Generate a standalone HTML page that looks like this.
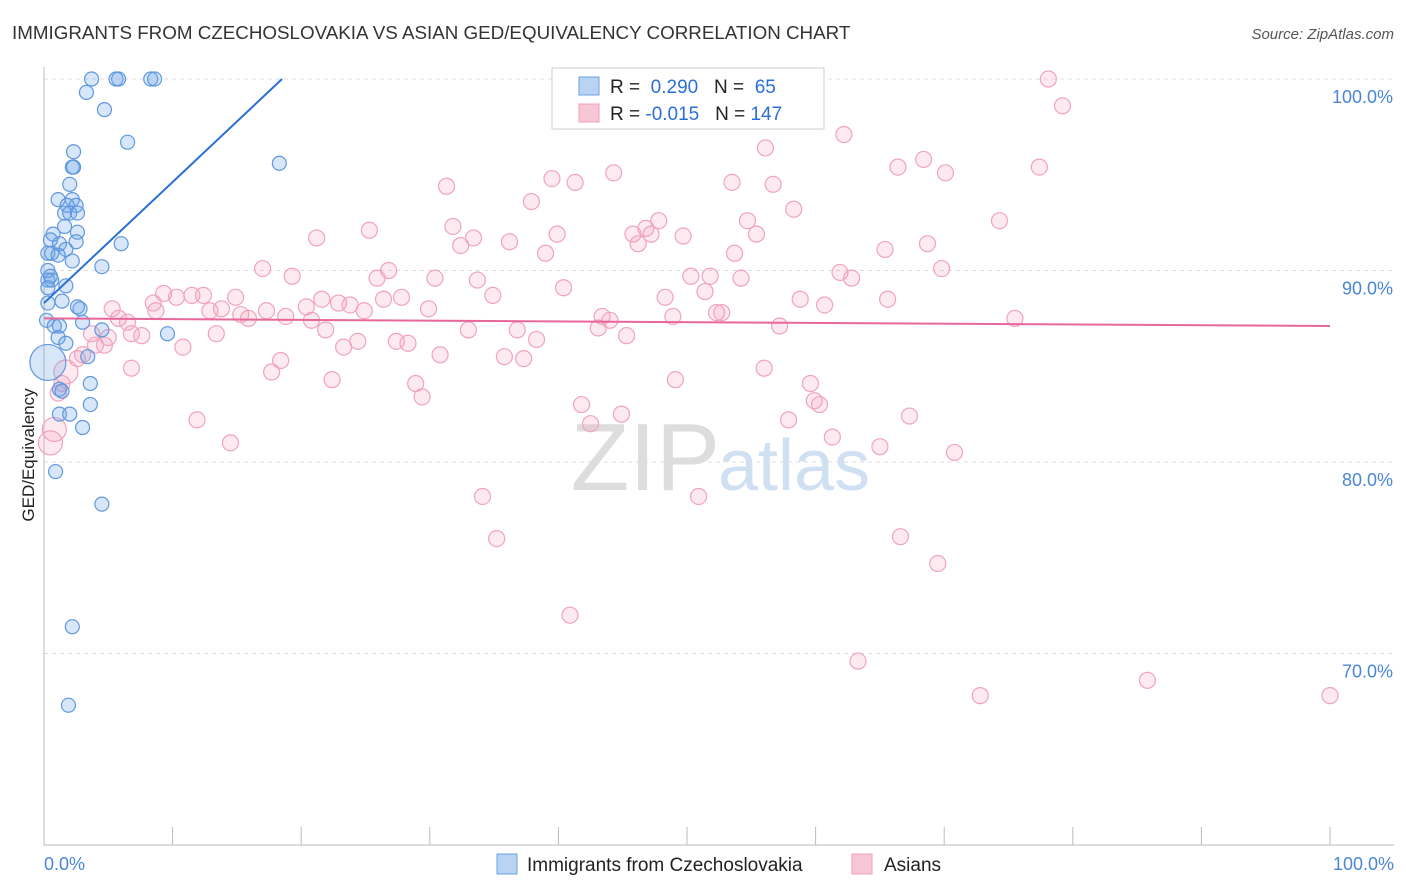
<!DOCTYPE html>
<html><head><meta charset="utf-8">
<style>
body{margin:0;background:#fff;font-family:"Liberation Sans",sans-serif;}
#wrap{position:relative;width:1406px;height:892px;overflow:hidden}
svg text{font-family:"Liberation Sans",sans-serif}
</style></head>
<body>
<div id="wrap">
<svg id="chart" width="1406" height="892">
<text x="12" y="39" font-size="18.8" fill="#333">IMMIGRANTS FROM CZECHOSLOVAKIA VS ASIAN GED/EQUIVALENCY CORRELATION CHART</text>
<text x="1394" y="39" font-size="15" fill="#555" font-style="italic" text-anchor="end">Source: ZipAtlas.com</text>
<text x="720" y="490" font-size="96" fill="#ddd" text-anchor="end" font-family="Liberation Serif">ZIP</text>
<text x="718" y="490" font-size="72" fill="#cfe0f3">atlas</text>
<g id="grid"></g><g id="axes"></g><g id="pts"></g><g id="trend"></g>
<text transform="translate(34,455) rotate(-90)" font-size="17" fill="#222" text-anchor="middle">GED/Equivalency</text>
<text x="44" y="870" font-size="18" fill="#4a86d8">0.0%</text>
<text x="1394" y="870" font-size="18" fill="#4a86d8" text-anchor="end">100.0%</text>
<g>
<rect x="552" y="68" width="272" height="61" fill="#fff" stroke="#ccc"/>
<rect x="579" y="77" width="20" height="18" fill="#b9d3f3" stroke="#6aa0e0"/>
<rect x="579" y="104" width="20" height="18" fill="#f9c6d6" stroke="#f0a0b8"/>
<text x="610" y="93" font-size="19" fill="#222">R = <tspan fill="#2a6fd6">&#160;0.290</tspan>&#160;&#160;&#160;N = &#160;<tspan fill="#2a6fd6">65</tspan></text>
<text x="610" y="120" font-size="19" fill="#222">R = <tspan fill="#2a6fd6">-0.015</tspan>&#160;&#160;&#160;N = <tspan fill="#2a6fd6">147</tspan></text>
</g>
<g>
<rect x="497" y="854" width="20" height="20" fill="#b9d3f3" stroke="#6aa0e0"/>
<text x="527" y="871" font-size="19" fill="#222">Immigrants from Czechoslovakia</text>
<rect x="852" y="854" width="20" height="20" fill="#f9c6d6" stroke="#f0a0b8"/>
<text x="884" y="871" font-size="19" fill="#222">Asians</text>
</g>
</svg>
</div>
<script>
const yTicks=[100,90,80,70];
const yTickLabels=["100.0%","90.0%","80.0%","70.0%"];
const xTicks=[0,10,20,30,40,50,60,70,80,90,100];
const blueX=[3.7,5.6,5.8,8.3,8.6,3.3,4.7,6.5,2.3,2.3,2.2,18.3,2.0,1.1,2.2,1.8,2.5,1.6,2.0,2.6,1.6,2.6,0.7,0.5,2.5,1.2,6.0,1.7,0.6,0.3,1.1,2.2,4.5,0.3,0.5,0.3,0.6,1.7,0.3,1.4,2.6,2.8,3.0,0.2,0.8,1.2,4.5,9.6,1.1,1.7,3.4,3.6,1.2,1.4,3.6,1.2,2.0,3.0,0.9,4.5,2.2,1.9,0.3,0.3];
const blueY=[100,100,100,100,100,99.3,98.4,96.7,96.2,95.4,95.4,95.6,94.5,93.7,93.7,93.4,93.4,93.0,93.0,93.0,92.3,92.0,91.9,91.6,91.5,91.4,91.4,91.1,90.9,90.9,90.8,90.5,90.2,90.0,89.7,89.5,89.5,89.2,89.1,88.4,88.1,88.0,87.3,87.4,87.1,87.1,86.9,86.7,86.5,86.2,85.5,84.1,83.8,83.7,83.0,82.5,82.5,81.8,79.5,77.8,71.4,67.3,85.2,88.3];
const pinkX=[78.1,79.2,62.2,56.1,44.3,39.5,31.3,41.3,53.5,56.7,66.4,68.4,70.1,77.4,37.9,58.3,74.3,31.8,25.3,54.7,47.8,46.8,45.8,47.2,46.2,49.7,39.9,33.4,32.4,36.2,21.2,55.4,65.4,68.7,39.0,53.7,17.0,19.3,26.8,25.9,30.4,33.7,50.3,51.8,54.2,61.9,62.8,69.8,40.4,34.9,27.8,26.4,21.6,20.4,14.9,9.3,11.5,12.4,10.3,8.5,5.3,5.8,6.5,8.7,12.9,13.8,15.3,15.9,17.3,18.8,20.8,22.9,23.8,24.9,29.9,33.0,43.4,44.0,43.1,45.3,48.9,48.3,51.4,52.3,52.7,57.2,58.8,60.7,65.6,75.5,5.0,6.8,7.6,3.7,4.0,4.7,2.6,3.0,10.8,13.4,21.9,23.3,24.4,27.4,28.3,30.8,35.8,37.3,38.3,36.8,18.4,17.7,6.8,22.4,28.9,29.4,49.1,56.0,59.6,59.9,60.3,41.8,42.5,44.9,57.9,67.3,11.9,14.5,61.3,65.0,70.8,1.1,1.4,1.7,0.8,0.5,34.1,50.9,35.2,66.6,69.5,40.9,63.3,72.8,85.8,100];
const pinkY=[100,98.6,97.1,96.4,95.1,94.8,94.4,94.6,94.6,94.5,95.4,95.8,95.1,95.4,93.6,93.2,92.6,92.3,92.1,92.6,92.6,92.2,91.9,91.9,91.4,91.8,91.9,91.7,91.3,91.5,91.7,91.9,91.1,91.4,90.9,90.9,90.1,89.7,90.0,89.6,89.6,89.5,89.7,89.7,89.6,89.9,89.6,90.1,89.1,88.7,88.6,88.5,88.5,88.1,88.6,88.8,88.7,88.7,88.6,88.3,88.0,87.5,87.3,87.9,87.9,88.0,87.7,87.5,87.9,87.6,87.4,88.3,88.2,87.9,88.0,86.9,87.6,87.4,87.0,86.6,87.6,88.6,88.9,87.8,87.8,87.1,88.5,88.2,88.5,87.5,86.5,86.7,86.6,86.7,86.1,86.1,85.4,85.6,86.0,86.7,86.9,86.0,86.3,86.3,86.2,85.6,85.5,85.4,86.4,86.9,85.3,84.7,84.9,84.3,84.1,83.4,84.3,84.9,84.1,83.2,83.0,83.0,82.0,82.5,82.2,82.4,82.2,81.0,81.3,80.8,80.5,83.6,84.1,84.7,81.7,81.0,78.2,78.2,76.0,76.1,74.7,72.0,69.6,67.8,68.6,67.8];
const blueTrend=[88.3,0.632];
const pinkTrend=[87.5,-0.004];

const blueBig=[blueX.length-2];
const pinkBig=[pinkX.length-13,pinkX.length-12,pinkX.length-11];
const X0=44,X1=1330,Ytop=79,PX10=19.15;
const xs=v=>X0+(X1-X0)*v/100;
const ys=v=>Ytop+(100-v)*PX10;
const NS="http://www.w3.org/2000/svg";
function mk(tag,attrs,parent){const e=document.createElementNS(NS,tag);for(const k in attrs)e.setAttribute(k,attrs[k]);parent.appendChild(e);return e;}
const grid=document.getElementById('grid'),axes=document.getElementById('axes'),pts=document.getElementById('pts'),trend=document.getElementById('trend');
yTicks.forEach((t,i)=>{
  const l=mk('line',{x1:X0,x2:1394,y1:ys(t),y2:ys(t),stroke:'#ddd','stroke-dasharray':'4,4'},grid);
  
  
  const tx=mk('text',{x:1393,y:ys(t)+24,'font-size':18,fill:'#4a86d8','text-anchor':'end'},grid);
  tx.textContent=yTickLabels[i];
  
  
});
const ax=mk('line',{x1:X0,x2:X0,y1:67,y2:845,stroke:'#bbb'},axes);


const bx=mk('line',{x1:X0,x2:1394,y1:845,y2:845,stroke:'#bbb'},axes);


xTicks.forEach(t=>{
  const l=mk('line',{x1:xs(t),x2:xs(t),y1:827,y2:845,stroke:'#bbb'},axes);
  
  
});
pinkX.forEach((x,i)=>{
  const r=pinkBig.includes(i)?12:8;
  const c=mk('circle',{cx:xs(x),cy:ys(pinkY[i]),r:r,fill:'rgba(244,160,188,0.22)',stroke:'#f0a3bc','stroke-width':1.2},pts);
  
  
});
blueX.forEach((x,i)=>{
  const r=blueBig.includes(i)?18:7;
  const c=mk('circle',{cx:xs(x),cy:ys(blueY[i]),r:r,fill:'rgba(110,165,232,0.28)',stroke:'#5f98de','stroke-width':1.2},pts);
  
  
});
const bxEnd=(100-blueTrend[0])/blueTrend[1];
const bl=mk('line',{x1:xs(0),y1:ys(blueTrend[0]),x2:xs(bxEnd),y2:ys(100),stroke:'#2a6fd6','stroke-width':2},trend);


const pl=mk('line',{x1:xs(0),y1:ys(pinkTrend[0]),x2:xs(100),y2:ys(pinkTrend[0]+pinkTrend[1]*100),stroke:'#e8679a','stroke-width':2},trend);


</script>
</body></html>
